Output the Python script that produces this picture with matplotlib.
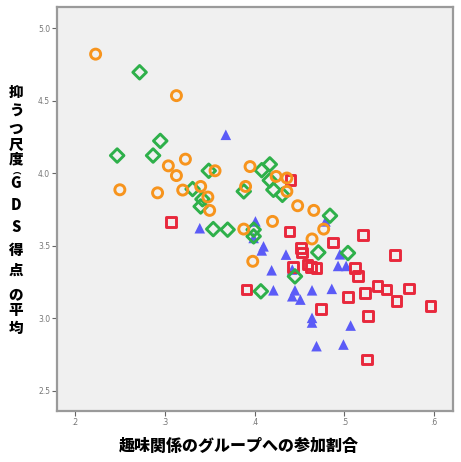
import matplotlib
matplotlib.use("Agg")
import matplotlib.pyplot as plt

# participation ratio (x) vs mean GDS score (y), four groups
orange_x = [0.223, 0.313, 0.250, 0.292, 0.304, 0.313, 0.323, 0.320, 0.340, 0.348, 0.350, 0.356,
            0.395, 0.390, 0.388, 0.424, 0.436, 0.436, 0.448, 0.466, 0.420, 0.477, 0.464, 0.398]
orange_y = [4.82, 4.534, 3.885, 3.864, 4.05, 3.983, 4.096, 3.883, 3.908, 3.835, 3.743, 4.016,
            4.045, 3.908, 3.614, 3.977, 3.966, 3.874, 3.775, 3.743, 3.667, 3.614, 3.546, 3.392]

green_x = [0.272, 0.295, 0.247, 0.287, 0.331, 0.342, 0.340, 0.349, 0.354, 0.370, 0.399, 0.399,
           0.388, 0.408, 0.417, 0.417, 0.421, 0.431, 0.484, 0.471, 0.445, 0.407, 0.504]
green_y = [4.695, 4.222, 4.121, 4.121, 3.89, 3.82, 3.77, 4.016, 3.614, 3.61, 3.61, 3.564,
           3.874, 4.02, 4.06, 3.95, 3.885, 3.85, 3.706, 3.453, 3.288, 3.185, 3.449]

blue_x = [0.368, 0.339, 0.399, 0.401, 0.408, 0.410, 0.435, 0.419, 0.421, 0.445, 0.442, 0.451,
          0.464, 0.442, 0.464, 0.464, 0.469, 0.486, 0.493, 0.502, 0.495, 0.507, 0.499, 0.479]
blue_y = [4.264, 3.62, 3.553, 3.667, 3.467, 3.495, 3.438, 3.33, 3.192, 3.192, 3.151, 3.128,
          3.192, 3.335, 3.002, 2.97, 2.807, 3.202, 3.36, 3.36, 3.44, 2.949, 2.818, 3.667]

red_x = [0.307, 0.440, 0.439, 0.487, 0.452, 0.521, 0.556, 0.512, 0.515, 0.537, 0.547, 0.572, 0.558,
         0.523, 0.504, 0.596, 0.526, 0.525, 0.474, 0.453, 0.443, 0.459, 0.463, 0.469, 0.391]
red_y = [3.663, 3.954, 3.598, 3.522, 3.484, 3.575, 3.438, 3.346, 3.289, 3.224, 3.197, 3.204, 3.116,
         3.174, 3.144, 3.082, 3.013, 2.715, 3.064, 3.453, 3.353, 3.37, 3.35, 3.346, 3.197]

x_ticks = [0.2, 0.3, 0.4, 0.5, 0.6]
x_ticklabels = [".2", ".3", ".4", ".5", ".6"]
y_ticks = [2.5, 3.0, 3.5, 4.0, 4.5, 5.0]
y_ticklabels = ["2.5", "3.0", "3.5", "4.0", "4.5", "5.0"]

W, H = 461, 462
fig = plt.figure(figsize=(W / 100, H / 100), dpi=100)
ax = fig.add_axes([57 / W, 1 - 411 / H, (453 - 57) / W, (411 - 7) / H])
ax.set_facecolor("#f0f0f0")

ax.scatter(blue_x, blue_y, marker="^", s=58, color="#5b5bf7", edgecolors="none", zorder=3)
ax.scatter(red_x, red_y, marker="s", s=50, facecolors="none", edgecolors="#e8283c",
           linewidths=2.1, zorder=4)
ax.scatter(green_x, green_y, marker="D", s=48, facecolors="none", edgecolors="#2eb04a",
           linewidths=2.1, zorder=5)
ax.scatter(orange_x, orange_y, marker="o", s=52, facecolors="none", edgecolors="#f7941d",
           linewidths=2.1, zorder=6)

ax.set_xlim(0.180, 0.621)
ax.set_ylim(2.36, 5.145)
ax.set_xticks(x_ticks)
ax.set_xticklabels(x_ticklabels)
ax.set_yticks(y_ticks)
ax.set_yticklabels(y_ticklabels)
ax.tick_params(axis="both", labelsize=5.5, labelcolor="#777777", color="#666666",
               length=3.5, width=0.8, pad=1.5)

for s in ax.spines.values():
    s.set_color("#9a9a9a")
    s.set_linewidth(1.6)

jp = ["Noto Sans CJK JP", "DejaVu Sans"]
fig.text(239 / W, 1 - 446 / H, "趣味関係のグループへの参加割合", family=jp,
         fontweight="heavy", fontsize=11.5, ha="center", va="center")

# y label written vertically, one glyph per line
ylabel_chars = [("抑", 92), ("う", 111), ("つ", 129), ("尺", 145), ("度", 159),
                ("G", 184), ("D", 205), ("S", 228), ("得", 250), ("点", 270),
                ("の", 295), ("平", 311), ("均", 328)]
for ch, ypx in ylabel_chars:
    fig.text(16 / W, 1 - ypx / H, ch, family=jp, fontweight="heavy", fontsize=10.5,
             ha="center", va="center")
fig.text(17 / W, 1 - 171 / H, "︵", family=jp, fontweight="heavy", fontsize=6,
         ha="center", va="center")

fig.savefig("out.png", dpi=100)
